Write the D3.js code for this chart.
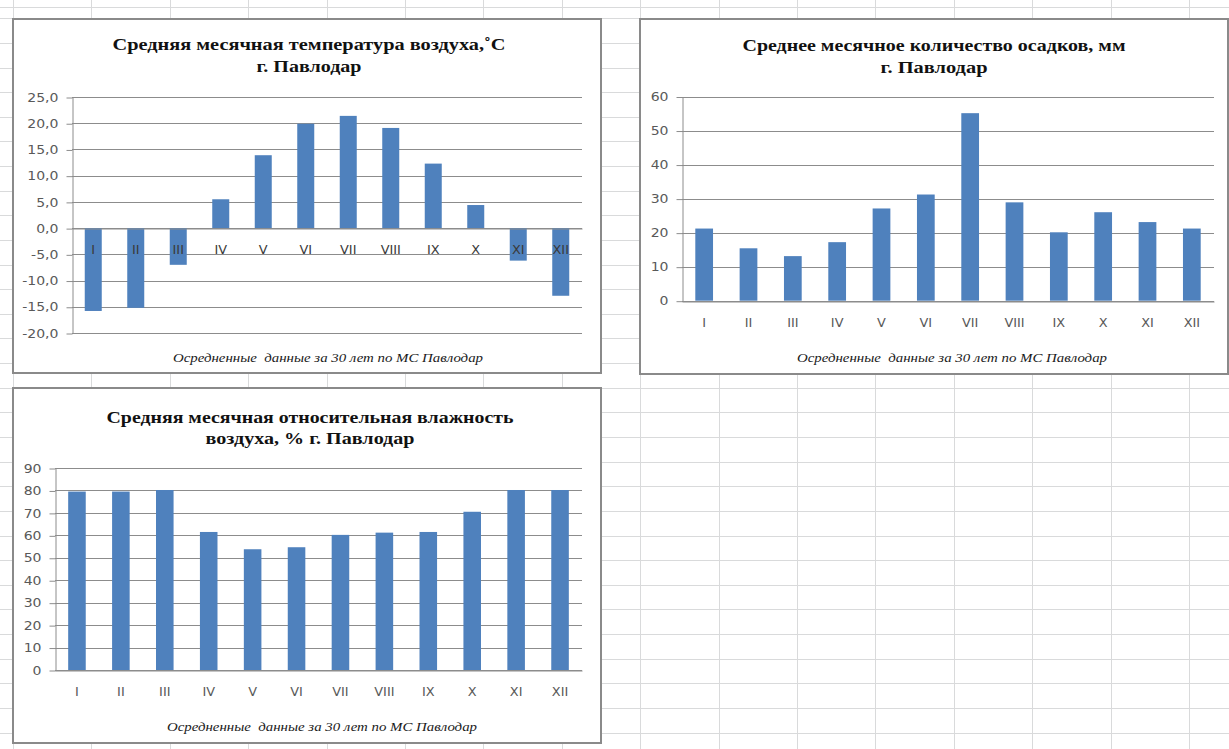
<!DOCTYPE html>
<html><head><meta charset="utf-8">
<script src="https://cdn.jsdelivr.net/npm/d3@7"></script>
<style>html,body{margin:0;padding:0;background:#fff;overflow:hidden}</style>
</head><body>
<svg id="c" width="1229" height="749"></svg>
<script>
// ---------- data ----------
const months = ["I","II","III","IV","V","VI","VII","VIII","IX","X","XI","XII"];
const temperature = [-15.8,-15.2,-7.0,5.5,13.9,19.9,21.4,19.1,12.3,4.4,-6.2,-12.9];
const precipitation = [21.2,15.4,13.1,17.2,27.1,31.2,55.1,28.9,20.1,26.0,23.1,21.2];
const humidity = [79.5,79.5,80.2,61.5,53.8,54.7,60.2,61.2,61.5,70.5,80.2,80.2];
const temperatureTicks = [-20,-15,-10,-5,0,5,10,15,20,25];
const precipitationTicks = [0,10,20,30,40,50,60];
const humidityTicks = [0,10,20,30,40,50,60,70,80,90];
const titleTemperature = ["Средняя месячная температура воздуха,˚С","г. Павлодар"];
const titlePrecipitation = ["Среднее месячное количество осадков, мм","г. Павлодар"];
const titleHumidity = ["Средняя месячная относительная влажность","воздуха, % г. Павлодар"];
const sourceNote = "Осредненные  данные за 30 лет по МС Павлодар";

// ---------- layout ----------
const svg = d3.select("#c");
const W = 1229, H = 749;
const locale = d3.formatLocale({decimal:",", thousands:" ", grouping:[3], currency:["",""], minus:"-"});

// spreadsheet background grid
const sheet = svg.append("g");
d3.range(0, 16).forEach(k => {
  const x = Math.round(13 + 78.4 * k) + 0.5;
  sheet.append("line").attr("x1", x).attr("x2", x).attr("y1", 0).attr("y2", H)
    .attr("stroke", "#d9dadb").attr("stroke-width", 1);
});
d3.range(-1, 31).forEach(k => {
  const y = Math.round(18.3 + 24.63 * k) + 0.5;
  sheet.append("line").attr("x1", 0).attr("x2", W).attr("y1", y).attr("y2", y)
    .attr("stroke", "#d9dadb").attr("stroke-width", 1);
});
sheet.append("line").attr("x1", 0).attr("x2", W).attr("y1", 7.5).attr("y2", 7.5)
  .attr("stroke", "#d9dadb");

function stretch(sel, f) {
  sel.each(function() {
    const len = this.getComputedTextLength();
    d3.select(this).attr("textLength", len * f).attr("lengthAdjust", "spacingAndGlyphs");
  });
}

function drawChart(cfg) {
  const g = svg.append("g");
  const [fx0, fy0, fx1, fy1] = cfg.frame;
  g.append("rect").attr("x", fx0).attr("y", fy0).attr("width", fx1 - fx0).attr("height", fy1 - fy0)
    .attr("fill", "#fff").attr("stroke", "#8a8a8a").attr("stroke-width", 2);

  // title
  cfg.title.forEach((t, i) => {
    g.append("text").attr("x", cfg.titleCx).attr("y", cfg.titleY[i])
      .attr("text-anchor", "middle")
      .attr("font-family", "'Liberation Serif', 'Times New Roman', serif")
      .attr("font-weight", "bold").attr("font-size", 17).attr("fill", "#111")
      .attr("textLength", cfg.titleW[i]).attr("lengthAdjust", "spacingAndGlyphs")
      .text(t);
  });

  const x = d3.scaleBand().domain(months).range(cfg.xr).paddingInner(0.6).paddingOuter(0.3);
  const y = d3.scaleLinear().domain(cfg.domain).range(cfg.yr);

  // gridlines
  g.append("g").selectAll("line").data(cfg.ticks).join("line")
    .attr("x1", cfg.xr[0]).attr("x2", cfg.xr[1])
    .attr("y1", d => Math.round(y(d)) + 0.5).attr("y2", d => Math.round(y(d)) + 0.5)
    .attr("stroke", "#8c8c8c").attr("stroke-width", 1);

  // bars
  g.append("g").selectAll("rect").data(cfg.values).join("rect")
    .attr("x", (d, i) => x(months[i]))
    .attr("width", x.bandwidth())
    .attr("y", d => Math.min(y(d), y(0)))
    .attr("height", d => Math.abs(y(d) - y(0)))
    .attr("fill", "#4f81bd");

  // y axis
  const ya = g.append("g").attr("transform", `translate(${Math.round(cfg.xr[0]) + 0.5},0)`)
    .call(d3.axisLeft(y).tickValues(cfg.ticks).tickSize(6).tickSizeOuter(0).tickPadding(8)
      .tickFormat(cfg.fmt));
  ya.select(".domain").attr("stroke", "#8c8c8c");
  ya.selectAll(".tick line").attr("stroke", "#8c8c8c").attr("transform", "translate(0,0.5)");
  ya.selectAll(".tick text").attr("font-family", "'DejaVu Sans', sans-serif")
    .attr("font-size", 11.5).attr("fill", "#595959").attr("dy", "0.36em");
  stretch(ya.selectAll(".tick text"), 1.22);

  // x axis (category labels next to the axis)
  const xa = g.append("g").attr("transform", `translate(0,${Math.round(y(0)) + 0.5})`)
    .call(d3.axisBottom(x).tickSize(0).tickSizeOuter(0).tickPadding(17));
  xa.select(".domain").attr("stroke", "#8c8c8c");
  xa.selectAll(".tick text").attr("font-family", "'DejaVu Sans', sans-serif")
    .attr("font-size", 11.5).attr("fill", cfg.labelColor || "#595959");
  stretch(xa.selectAll(".tick text"), 1.12);

  // source note
  g.append("text").attr("x", cfg.noteCx).attr("y", cfg.noteY).attr("text-anchor", "middle")
    .attr("xml:space", "preserve").style("white-space", "pre")
    .attr("font-family", "'Liberation Serif', 'Times New Roman', serif")
    .attr("font-style", "italic").attr("font-size", 12).attr("fill", "#1a1a1a")
    .attr("textLength", 310).attr("lengthAdjust", "spacingAndGlyphs")
    .text(sourceNote);
}

drawChart({
  frame: [13, 19, 601, 373], title: titleTemperature, titleCx: 309, titleY: [50, 72], titleW: [393, 105],
  xr: [72, 582], yr: [333, 97], domain: [-20, 25], ticks: temperatureTicks, values: temperature,
  fmt: locale.format(".1f"), noteCx: 328, noteY: 362, labelColor: "#3a3a3a"
});
drawChart({
  frame: [640, 19, 1228, 374], title: titlePrecipitation, titleCx: 934, titleY: [51, 72.5], titleW: [383, 107],
  xr: [682, 1214], yr: [300.7, 96.5], domain: [0, 60], ticks: precipitationTicks, values: precipitation,
  fmt: locale.format("d"), noteCx: 952, noteY: 362
});
drawChart({
  frame: [13, 388, 601, 743], title: titleHumidity, titleCx: 310, titleY: [422.5, 444], titleW: [407, 209],
  xr: [55, 582], yr: [670, 468], domain: [0, 90], ticks: humidityTicks, values: humidity,
  fmt: locale.format("d"), noteCx: 322, noteY: 731
});
</script>
</body></html>
